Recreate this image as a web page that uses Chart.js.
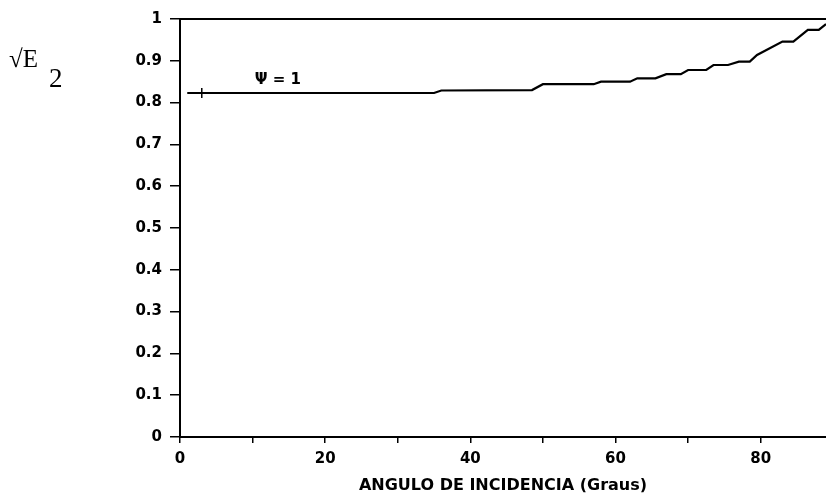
<!DOCTYPE html>
<html>
<head>
<meta charset="utf-8">
<script src="https://cdn.jsdelivr.net/npm/chart.js@4"></script>
<style>
  html, body { margin: 0; padding: 0; background: #fff; overflow: hidden; }
  #wrap { width: 826px; height: 495px; position: relative; }
</style>
</head>
<body>
<div id="wrap"><canvas id="grafico"></canvas></div>
<script>
// ângulo de incidência (graus) e valores de sqrt(E2) para psi = 1
const angulos = [1, 35, 36, 48.5, 50, 57, 58, 62, 63, 65.5, 67, 69, 70, 72.5, 73.5, 75.5, 77, 78.5, 79.5, 83, 84.5, 86.5, 88, 89];
const valores = [0.823, 0.823, 0.829, 0.830, 0.844, 0.844, 0.850, 0.850, 0.858, 0.858, 0.868, 0.868, 0.878, 0.878, 0.890, 0.890, 0.898, 0.898, 0.914, 0.946, 0.946, 0.974, 0.974, 0.988];
const marcaX = [3];
const marcaY = [0.823];
const xTicksLabel = [0, 20, 40, 60, 80];
const rotuloCurva = 'Ψ = 1';
const rotuloPos = [10.3, 0.845];

const fonteEixo = { family: 'DejaVu Sans, sans-serif', size: 15, weight: 'bold' };

// texto do eixo y e rótulo da curva
const textoExtra = {
  id: 'textoExtra',
  afterDraw(chart) {
    const ctx = chart.ctx;
    ctx.save();
    ctx.fillStyle = '#000';
    ctx.font = '25px "Liberation Serif", "DejaVu Serif", serif';
    ctx.textBaseline = 'alphabetic';
    ctx.fillText('√E', 9, 67);
    ctx.font = '27px "Liberation Serif", "DejaVu Serif", serif';
    ctx.fillText('2', 49, 87);
    const sx = chart.scales.x, sy = chart.scales.y;
    ctx.font = 'bold 15px "DejaVu Sans", sans-serif';
    ctx.fillText(rotuloCurva, sx.getPixelForValue(rotuloPos[0]), sy.getPixelForValue(rotuloPos[1]));
    ctx.restore();
  }
};

const semPadding = s => { s.paddingLeft = 0; s.paddingRight = 0; };

new Chart(document.getElementById('grafico'), {
  type: 'scatter',
  data: {
    datasets: [{
      data: angulos.map((a, i) => ({ x: a, y: valores[i] })),
      showLine: true,
      borderColor: '#000',
      borderWidth: 2.2,
      pointRadius: 0,
      tension: 0
    }, {
      data: marcaX.map((a, i) => ({ x: a, y: marcaY[i] })),
      pointStyle: 'line',
      rotation: 90,
      pointRadius: 5,
      borderColor: '#000',
      borderWidth: 1.5
    }]
  },
  options: {
    responsive: true,
    maintainAspectRatio: false,
    animation: false,
    layout: { autoPadding: false, padding: { top: 19, right: 0, left: 0, bottom: 0 } },
    plugins: { legend: { display: false }, tooltip: { enabled: false } },
    scales: {
      x: {
        type: 'linear',
        min: 0,
        max: 89,
        afterBuildTicks: ax => { ax.ticks = ax.ticks.filter(t => t.value % 10 === 0); },
        afterFit: s => { s.height = 58; semPadding(s); },
        ticks: {
          stepSize: 10,
          color: '#000',
          font: fonteEixo,
          padding: 7,
          maxRotation: 0,
          autoSkip: false,
          callback: v => xTicksLabel.includes(v) ? String(v) : ''
        },
        grid: { drawOnChartArea: false, tickLength: 6, color: '#000', lineWidth: 1.5 },
        border: { color: '#000', width: 2 },
        title: {
          display: true,
          text: 'ANGULO DE INCIDENCIA (Graus)',
          color: '#000',
          font: { family: 'DejaVu Sans, sans-serif', size: 16, weight: 'bold' },
          padding: { top: 2, bottom: 0 }
        }
      },
      xTopo: {
        type: 'linear',
        position: 'top',
        min: 0,
        max: 89,
        afterFit: s => { s.height = 0; semPadding(s); },
        ticks: { display: false },
        grid: { display: false },
        border: { color: '#000', width: 2 }
      },
      y: {
        min: 0,
        max: 1,
        afterFit: s => { s.width = 180; s.paddingTop = 0; s.paddingBottom = 0; },
        ticks: {
          stepSize: 0.1,
          color: '#000',
          font: fonteEixo,
          padding: 8,
          callback: v => String(+v.toFixed(1))
        },
        grid: { drawOnChartArea: false, tickLength: 10, color: '#000', lineWidth: 1.5 },
        border: { color: '#000', width: 2 }
      }
    }
  },
  plugins: [textoExtra]
});
</script>
</body>
</html>
